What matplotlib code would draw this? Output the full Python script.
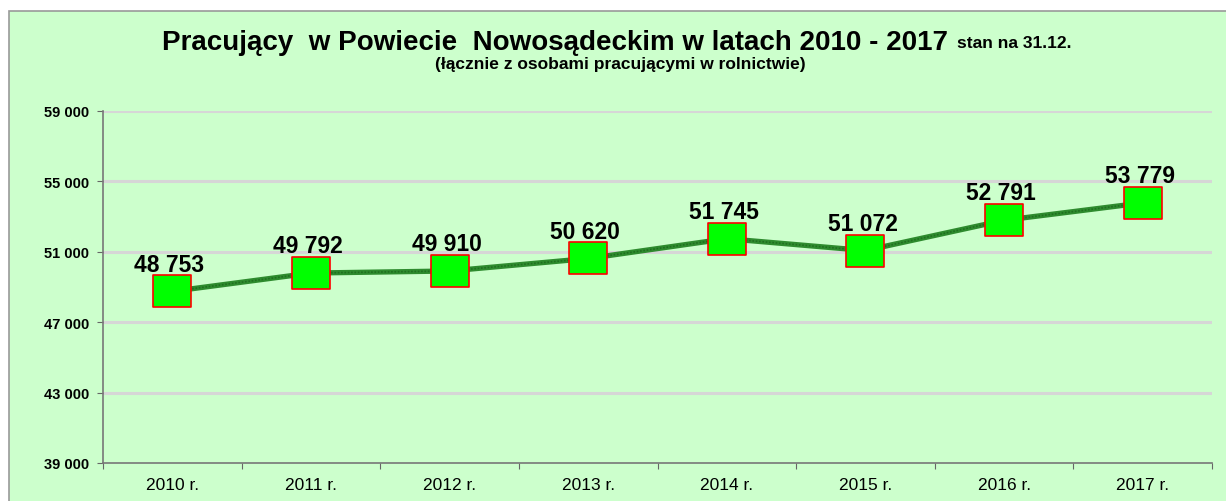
import matplotlib
matplotlib.use("Agg")
import matplotlib.pyplot as plt
from matplotlib.path import Path
from matplotlib.patches import Rectangle

years = ["2010 r.", "2011 r.", "2012 r.", "2013 r.", "2014 r.", "2015 r.", "2016 r.", "2017 r."]
workers = [48753, 49792, 49910, 50620, 51745, 51072, 52791, 53779]
yticks = [39000, 43000, 47000, 51000, 55000, 59000]

plt.rcParams['font.family'] = ['Liberation Sans', 'DejaVu Sans']

W, H = 1226, 502
fig = plt.figure(figsize=(W / 100, H / 100), dpi=100)
fig.patch.set_facecolor('white')

# green chart area box
bg = Rectangle((9 / W, -0.05), 1.2, 1 - 12 / H + 0.05, transform=fig.transFigure,
               facecolor='#CCFFCC', edgecolor='#999999', linewidth=1.2, zorder=-10)
fig.add_artist(bg)

ax = fig.add_axes([103 / W, 1 - 464 / H, (1212 - 103) / W, (464 - 112) / H])
ax.set_facecolor('none')
ax.set_zorder(5)

x = list(range(len(years)))
ax.set_xlim(-0.5, len(years) - 0.5)
ax.set_ylim(yticks[0], yticks[-1])

for v in yticks[1:]:
    ax.axhline(v, color='#D6D6D6', linewidth=2.2, zorder=1)

rect = Path([(-1, -0.86), (1, -0.86), (1, 0.86), (-1, 0.86), (-1, -0.86)],
            [Path.MOVETO, Path.LINETO, Path.LINETO, Path.LINETO, Path.CLOSEPOLY])

ax.plot(x, workers, color='#2E8B2E', linewidth=3.8, zorder=3, solid_capstyle='butt')
ax.plot(x, workers, color='#1F6F1F', linewidth=1.2, linestyle=(0, (1, 1)), zorder=3)
ax.plot(x, workers, linestyle='none', marker=rect, markersize=27,
        markerfacecolor='#00FF00', markeredgecolor='#FF0000', markeredgewidth=1.2, zorder=4)

for xi, v in zip(x, workers):
    ax.annotate(f"{v:,}".replace(",", " "), (xi, v), xytext=(-2, 15), textcoords='offset points',
                ha='center', va='baseline', fontsize=16.5, fontweight='bold', color='black', zorder=5)

ax.set_yticks(yticks)
ax.set_yticklabels([f"{v:,}".replace(",", " ") for v in yticks], fontsize=10.5, fontweight='bold')
ax.set_xticks([i + 0.5 for i in range(-1, len(years))], minor=False)
ax.set_xticklabels([])
ax.set_xticks(x, minor=True)
ax.set_xticklabels(years, minor=True, fontsize=12.5)
ax.tick_params(axis='x', which='minor', length=0, pad=10)
ax.tick_params(axis='x', which='major', length=4, color='#666666', direction='out')
ax.tick_params(axis='y', length=4, color='#666666', pad=6)

for s in ['top', 'right']:
    ax.spines[s].set_visible(False)
for s in ['left', 'bottom']:
    ax.spines[s].set_color('#777777')
    ax.spines[s].set_linewidth(1.2)

# title
t1 = fig.text(555 / W, 1 - 43 / H, "Pracujący  w Powiecie  Nowosądeckim w latach 2010 - 2017",
              ha='center', va='center', fontsize=20, fontweight='bold')
fig.canvas.draw()
bb = t1.get_window_extent()
fig.text((bb.x1 + 9) / W, 1 - 44 / H, "stan na 31.12.", ha='left', va='center',
         fontsize=12.5, fontweight='bold')
fig.text(620 / W, 1 - 64 / H, "(łącznie z osobami pracującymi w rolnictwie)",
         ha='center', va='center', fontsize=12.5, fontweight='bold')

fig.savefig('out.png', dpi=100, facecolor=fig.get_facecolor())
